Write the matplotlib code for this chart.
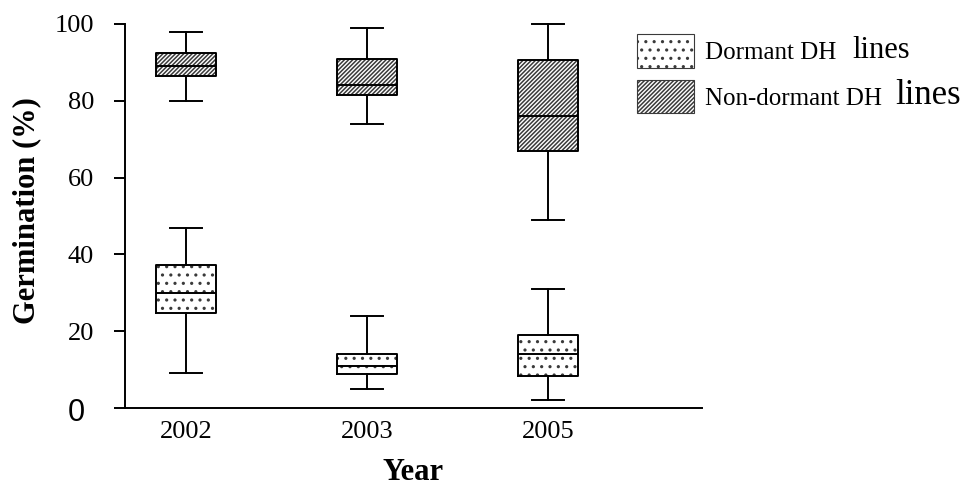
import matplotlib.pyplot as plt
from matplotlib.patches import Patch

plt.rcParams['font.family'] = 'Liberation Serif'
plt.rcParams['hatch.linewidth'] = 1.1

years = ["2002", "2003", "2005"]
positions = [1, 2, 3]

# germination (%) per year: lower whisker, Q1, median, Q3, upper whisker
dormant_low = [9, 5, 2]
dormant_q1 = [24.7, 8.9, 8.4]
dormant_med = [30, 11, 14]
dormant_q3 = [37.2, 14.1, 19]
dormant_high = [47, 24, 31]

nondormant_low = [80, 74, 49]
nondormant_q1 = [86.5, 81.5, 67]
nondormant_med = [89, 84, 76]
nondormant_q3 = [92.5, 91, 90.5]
nondormant_high = [98, 99, 100]


def box_stats(lo, q1, med, q3, hi):
    return [dict(whislo=a, q1=b, med=c, q3=d, whishi=e, fliers=[])
            for a, b, c, d, e in zip(lo, q1, med, q3, hi)]


dormant = box_stats(dormant_low, dormant_q1, dormant_med, dormant_q3, dormant_high)
nondormant = box_stats(nondormant_low, nondormant_q1, nondormant_med, nondormant_q3, nondormant_high)

fig = plt.figure(figsize=(9.67, 4.86), dpi=100)
ax = fig.add_axes([125 / 967, 78 / 486, 577 / 967, 384 / 486])

lw = 1.4
hatch_col = '#3a3a3a'
dot_hatch = '..'
line_hatch = '////////'
for stats, hatch in [(dormant, dot_hatch), (nondormant, line_hatch)]:
    # hatched fill first, then black outlines on top
    ax.bxp(stats, positions=positions, widths=0.33, patch_artist=True,
           showcaps=False, manage_ticks=False,
           boxprops=dict(facecolor='white', edgecolor=hatch_col, linewidth=0, hatch=hatch),
           whiskerprops=dict(linewidth=0), medianprops=dict(linewidth=0))
    parts = ax.bxp(stats, positions=positions, widths=0.33, capwidths=0.177,
                   manage_ticks=False,
                   boxprops=dict(color='black', linewidth=lw),
                   whiskerprops=dict(color='black', linewidth=lw),
                   capprops=dict(color='black', linewidth=lw),
                   medianprops=dict(color='black', linewidth=lw))
    for arts in parts.values():
        for a in arts:
            a.set_clip_on(False)

ax.set_xlim(0.663, 3.851)
ax.set_ylim(0, 100)
ax.set_xticks(positions)
ax.set_xticklabels(years)
ax.set_yticks([0, 20, 40, 60, 80, 100])
ax.set_yticklabels(["", "20", "40", "60", "80", "100"])
ax.tick_params(axis='y', direction='out', length=7.9, width=lw, pad=14.4, labelsize=19)
ax.tick_params(axis='x', length=0, pad=9, labelsize=19)
ax.annotate("0", xy=(0, 0), xycoords=('axes fraction', 'data'),
            xytext=(-28.8, -3.6), textcoords='offset points',
            ha='right', va='center', fontsize=22, family='Liberation Sans')

for s in ['top', 'right']:
    ax.spines[s].set_visible(False)
for s in ['left', 'bottom']:
    ax.spines[s].set_linewidth(lw)

ax.set_xlabel("Year", fontsize=22, fontweight='bold')
ax.set_ylabel("Germination (%)", fontsize=22, fontweight='bold')
ax.xaxis.set_label_coords(0.5, -0.13)
ax.yaxis.set_label_coords(-0.145, 0.515)

handles = [Patch(facecolor='white', edgecolor=hatch_col, hatch=dot_hatch, linewidth=0.8),
           Patch(facecolor='white', edgecolor=hatch_col, hatch=line_hatch, linewidth=0.8)]
leg = ax.legend(handles, ["Dormant DH", "Non-dormant DH"], loc='upper left',
                bbox_to_anchor=(637 / 967, 1 - 34 / 486), bbox_transform=fig.transFigure,
                frameon=False, fontsize=18, handlelength=2.28, handleheight=1.7,
                handletextpad=0.45, labelspacing=0.48, borderpad=0, borderaxespad=0)
# the word "lines" is set in a larger size after each legend label
for t, size, gap in zip(leg.get_texts(), [22, 25], [11, 9]):
    ax.annotate("lines", xy=(1, 0), xycoords=t,
                xytext=(gap, -(size - 18) * 0.26),
                textcoords='offset points', ha='left', va='bottom', fontsize=size,
                zorder=10)

fig.savefig("out.png", dpi=100)
